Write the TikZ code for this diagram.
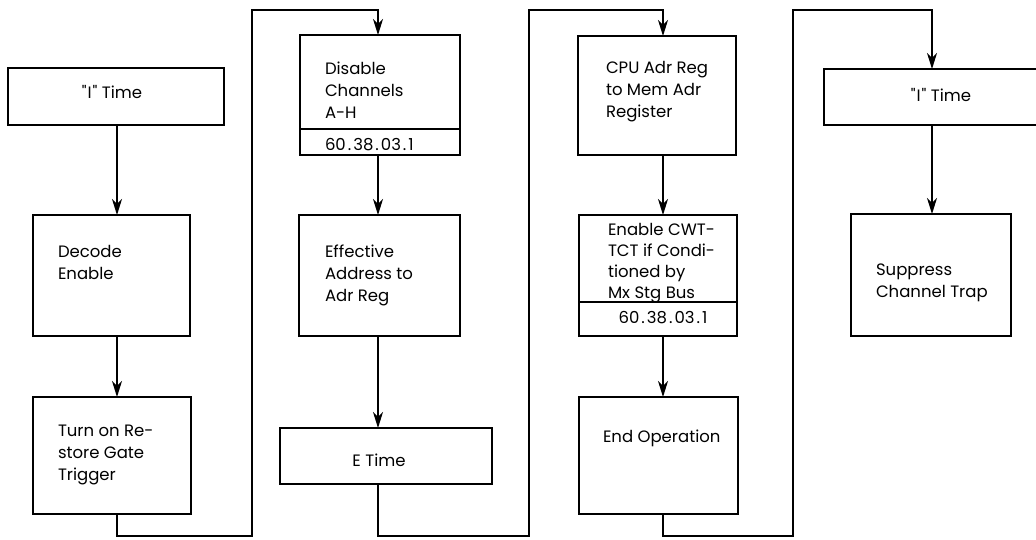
\documentclass[tikz,border=0pt]{standalone}
\usepackage{fontspec}
\setmainfont{Poppins}[Ligatures=TeXOff]
\usetikzlibrary{arrows.meta}
\newcommand\flowfont{\fontsize{16.5}{22}\selectfont}
\newcommand\lines[1]{\begin{tabular}[t]{@{}l@{}}#1\end{tabular}}
\newcommand\refno{60\kern2pt.\kern2pt38\kern2pt.\kern2pt03\kern2pt.\kern2pt1}
\begin{document}
\begin{tikzpicture}[x=1pt,y=-1pt,
  box/.style={draw, line width=1.4pt, inner sep=0pt, outer sep=0pt, anchor=north west},
  link/.style={line width=1.4pt},
  flow/.style={link, -{Stealth[length=16pt,width=10pt,inset=5pt]}},
  lbl/.style={inner sep=0pt, outer sep=0pt, anchor=base west, font=\flowfont},
  clbl/.style={lbl, anchor=base}]
\useasboundingbox (0,0) rectangle (1036,540);
\clip (0,0) rectangle (1036,540);

% arrow columns and loop corners
\coordinate (c1) at (117,0);
\coordinate (c2) at (378,0);
\coordinate (c3) at (663,0);
\coordinate (c4) at (932,0);
\coordinate (l1b) at (252,536); \coordinate (l1t) at (252,10);
\coordinate (l2b) at (529,536); \coordinate (l2t) at (529,10);
\coordinate (l3b) at (793,536); \coordinate (l3t) at (793,10);
\coordinate (d1) at (0,129);
\coordinate (d2) at (0,302);

% column 1
\node[box, minimum width=216pt, minimum height=57pt] (tIa) at (8,68) {};
\node[box, minimum width=157pt, minimum height=121pt] (dec) at (33,215) {};
\node[box, minimum width=158pt, minimum height=117pt] (turn) at (33,397) {};
\node[clbl] (tIaT) at (112,99) {"\kern1pt I\kern1pt" Time};
\node[lbl] (decT) at (58,257) {\lines{Decode\\Enable}};
\node[lbl] (turnT) at (58,436) {\lines{Turn on Re-\\store Gate\\Trigger}};

% column 2
\node[box, minimum width=160pt, minimum height=120pt] (dis) at (300,35) {};
\draw[link] (dis.west |- d1) -- (dis.east |- d1);
\node[box, minimum width=161pt, minimum height=121pt] (eff) at (299,215) {};
\node[box, minimum width=212pt, minimum height=56pt] (et) at (280,428) {};
\node[lbl] (disT) at (325,75) {\lines{Disable\\Channels\\A-H}};
\node[lbl] (disR) at (325,151) {\refno};
\node[lbl] (effT) at (325,257) {\lines{Effective\\Address to\\Adr Reg}};
\node[clbl] (etT) at (379,466) {E Time};

% column 3
\node[box, minimum width=158pt, minimum height=119pt] (cpu) at (578,36) {};
\node[box, minimum width=158pt, minimum height=121pt] (cwt) at (579,215) {};
\draw[link] (cwt.west |- d2) -- (cwt.east |- d2);
\node[box, minimum width=159pt, minimum height=117pt] (endop) at (579,397) {};
\node[lbl] (cpuT) at (606,74) {\lines{CPU Adr Reg\\to Mem Adr\\Register}};
\node[lbl, font=\fontsize{16.5}{20.7}\selectfont] (cwtT) at (608,236) {\lines{Enable CWT-\\TCT if Condi-\\tioned by\\Mx Stg Bus}};
\node[clbl] (cwtR) at (663,323) {\refno};
\node[lbl] (endT) at (603,442) {End Operation};

% column 4
\node[box, minimum width=236pt, minimum height=56pt] (tIb) at (824,69) {};
\node[box, minimum width=160pt, minimum height=122pt] (sup) at (851,214) {};
\node[clbl] (tIbT) at (941,102) {"\kern1pt I\kern1pt" Time};
\node[lbl] (supT) at (876,275) {\lines{Suppress\\Channel Trap}};

% connectors inside each column
\draw[flow] (tIa.south -| c1) -- (dec.north -| c1);
\draw[flow] (dec.south -| c1) -- (turn.north -| c1);
\draw[flow] (dis.south -| c2) -- (eff.north -| c2);
\draw[flow] (eff.south -| c2) -- (et.north -| c2);
\draw[flow] (cpu.south -| c3) -- (cwt.north -| c3);
\draw[flow] (cwt.south -| c3) -- (endop.north -| c3);
\draw[flow] (tIb.south -| c4) -- (sup.north -| c4);

% loops from one column to the next
\draw[flow] (turn.south -| c1) |- (l1b) -- (l1t) -| (dis.north -| c2);
\draw[flow] (et.south -| c2) |- (l2b) -- (l2t) -| (cpu.north -| c3);
\draw[flow] (endop.south -| c3) |- (l3b) -- (l3t) -| (tIb.north -| c4);
\end{tikzpicture}
\end{document}
